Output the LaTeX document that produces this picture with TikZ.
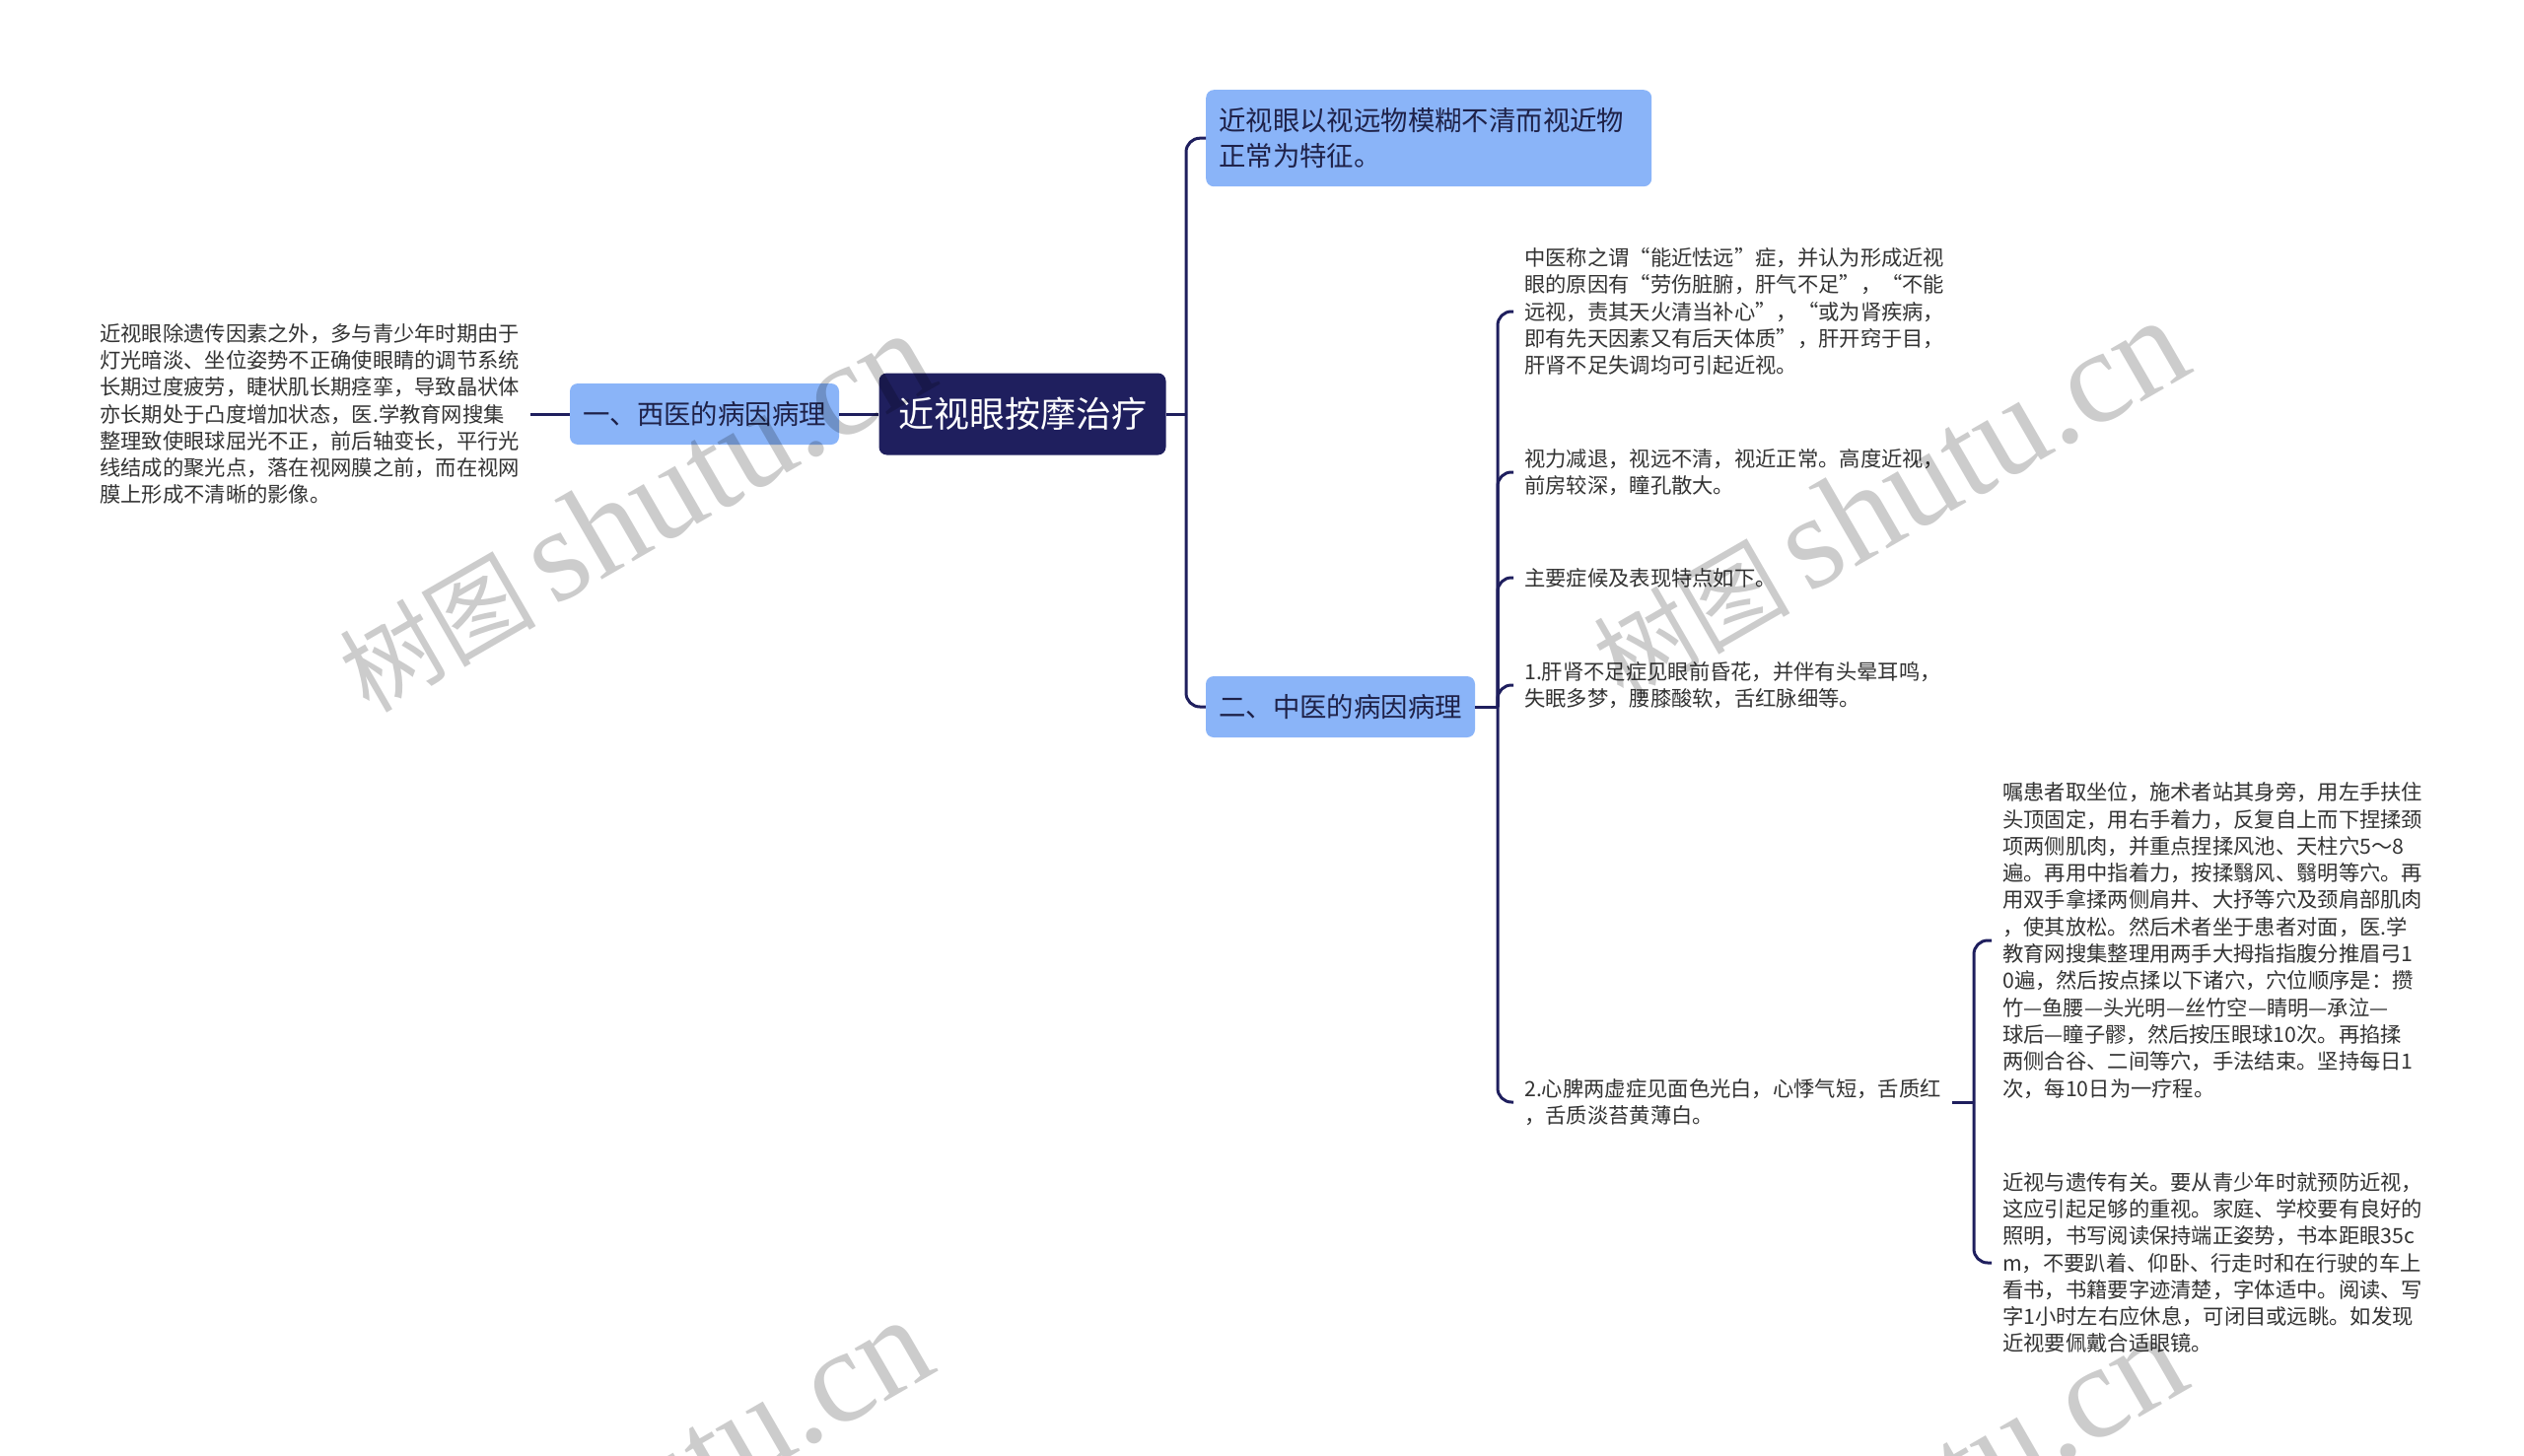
\documentclass[tikz,border=0pt]{standalone}
\usepackage{fontspec}
\newfontfamily\cjk{Noto Sans CJK SC}
\newfontfamily\wmserif{Liberation Serif}
\definecolor{navy}{HTML}{1F1F5E}
\definecolor{lblue}{HTML}{8AB4F8}
\definecolor{boxtxt}{HTML}{1E2148}
\definecolor{txt}{HTML}{333333}
\begin{document}
\begin{tikzpicture}[x=1pt,y=-1pt,
  line/.style={draw=navy, line width=3pt, rounded corners=14pt},
  rootbox/.style={fill=navy, rounded corners=8pt, text=white, font=\cjk\fontsize{36}{44}\selectfont, minimum width=291pt, minimum height=83pt, inner sep=0pt},
  bluebox/.style={fill=lblue, rounded corners=8pt, text=boxtxt, font=\cjk\fontsize{27.4}{36}\selectfont, inner sep=0pt},
  leaf/.style={font=\cjk\fontsize{21.3}{27.3}\selectfont, text=txt, align=left, inner xsep=11pt, inner ysep=4pt, anchor=west},
  wm/.style={text=black, text opacity=0.2, rotate=30, anchor=base west, inner sep=0pt}
]
\useasboundingbox (0,0) rectangle (2560,1477);
\clip (0,0) rectangle (2560,1477);
\fill[white] (0,0) rectangle (2560,1477);

% nodes
\node[rootbox] (root) at (1037,420) {近视眼按摩治疗};
\node[bluebox, minimum width=273pt, minimum height=62pt] (west) at (714.5,420) {一、西医的病因病理};
\node[leaf] (wtext) at (90,420) {近视眼除遗传因素之外，多与青少年时期由于\\灯光暗淡、坐位姿势不正确使眼睛的调节系统\\长期过度疲劳，睫状肌长期痉挛，导致晶状体\\亦长期处于凸度增加状态，医.学教育网搜集\\整理致使眼球屈光不正，前后轴变长，平行光\\线结成的聚光点，落在视网膜之前，而在视网\\膜上形成不清晰的影像。};
\node[bluebox, anchor=north west, minimum width=452pt, minimum height=98pt, align=left, text width=426pt, inner xsep=13pt] (feat) at (1223,91) {近视眼以视远物模糊不清而视近物\\正常为特征。};
\node[bluebox, minimum width=273pt, minimum height=62pt] (east) at (1359.5,717) {二、中医的病因病理};

\node[leaf] (ca) at (1535,316) {中医称之谓“能近怯远”症，并认为形成近视\\眼的原因有“劳伤脏腑，肝气不足”，“不能\\远视，责其天火清当补心”，“或为肾疾病，\\即有先天因素又有后天体质”，肝开窍于目，\\肝肾不足失调均可引起近视。};
\node[leaf] (cb) at (1535,479) {视力减退，视远不清，视近正常。高度近视，\\前房较深，瞳孔散大。};
\node[leaf] (cc) at (1535,586) {主要症候及表现特点如下。};
\node[leaf] (cd) at (1535,695) {1.肝肾不足症见眼前昏花，并伴有头晕耳鸣，\\失眠多梦，腰膝酸软，舌红脉细等。};
\node[leaf] (ce) at (1535,1118) {2.心脾两虚症见面色光白，心悸气短，舌质红\\，舌质淡苔黄薄白。};

\node[leaf] (ce1) at (2020,954) {嘱患者取坐位，施术者站其身旁，用左手扶住\\头顶固定，用右手着力，反复自上而下捏揉颈\\项两侧肌肉，并重点捏揉风池、天柱穴5～8\\遍。再用中指着力，按揉翳风、翳明等穴。再\\用双手拿揉两侧肩井、大抒等穴及颈肩部肌肉\\，使其放松。然后术者坐于患者对面，医.学\\教育网搜集整理用两手大拇指指腹分推眉弓1\\0遍，然后按点揉以下诸穴，穴位顺序是：攒\\竹—鱼腰—头光明—丝竹空—睛明—承泣—\\球后—瞳子髎，然后按压眼球10次。再掐揉\\两侧合谷、二间等穴，手法结束。坚持每日1\\次，每10日为一疗程。};
\node[leaf] (ce2) at (2020,1281) {近视与遗传有关。要从青少年时就预防近视，\\这应引起足够的重视。家庭、学校要有良好的\\照明，书写阅读保持端正姿势，书本距眼35c\\m，不要趴着、仰卧、行走时和在行驶的车上\\看书，书籍要字迹清楚，字体适中。阅读、写\\字1小时左右应休息，可闭目或远眺。如发现\\近视要佩戴合适眼镜。};

% spines
\coordinate (s1) at (1203,420);
\coordinate (s2) at (1519,717);
\coordinate (s3) at (2002,1118);

% connectors
\draw[line] (wtext.east) -- (west.west);
\draw[line] (west.east) -- (root.west);
\draw[line] (root.east) -- (s1);
\draw[line] (s1) |- (feat.west);
\draw[line] (s1) |- (east.west);
\draw[line] (east.east) -- (s2);
\draw[line] (s2) |- (ca.west);
\draw[line] (s2) |- (cb.west);
\draw[line] (s2) |- (cc.west);
\draw[line] (s2) |- (cd.west);
\draw[line] (s2) |- (ce.west);
\draw[line] (ce.east) -- (s3);
\draw[line] (s3) |- (ce1.west);
\draw[line] (s3) |- (ce2.west);

% watermarks
\node[wm] (wm1) at (374,725) {{\cjk\fontsize{100}{100}\selectfont 树图}\hspace{18pt}{\wmserif\fontsize{135}{135}\selectfont shutu.cn}};
\node[wm] (wm2) at (1646,712) {{\cjk\fontsize{100}{100}\selectfont 树图}\hspace{18pt}{\wmserif\fontsize{135}{135}\selectfont shutu.cn}};
\node[wm] (wm3) at (372,1726) {{\cjk\fontsize{100}{100}\selectfont 树图}\hspace{18pt}{\wmserif\fontsize{135}{135}\selectfont shutu.cn}};
\node[wm] (wm4) at (1644,1742) {{\cjk\fontsize{100}{100}\selectfont 树图}\hspace{18pt}{\wmserif\fontsize{135}{135}\selectfont shutu.cn}};
\end{tikzpicture}
\end{document}
